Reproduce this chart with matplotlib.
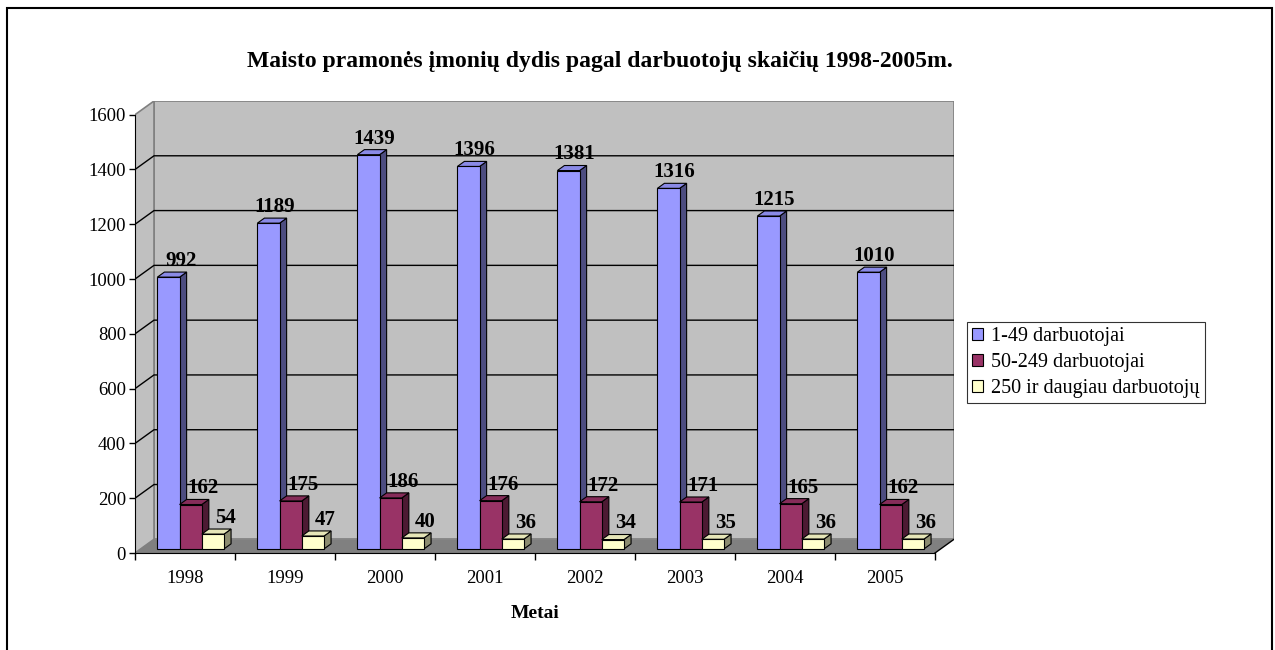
import numpy as np
import matplotlib.pyplot as plt
from matplotlib.patches import Polygon, Patch, Rectangle

plt.rcParams['font.family'] = ['Liberation Serif', 'DejaVu Serif']

years = ['1998', '1999', '2000', '2001', '2002', '2003', '2004', '2005']
small = [992, 1189, 1439, 1396, 1381, 1316, 1215, 1010]
medium = [162, 175, 186, 176, 172, 171, 165, 162]
large = [54, 47, 40, 36, 34, 35, 36, 36]
series_names = ['1-49 darbuotojai', '50-249 darbuotojai', '250 ir daugiau darbuotojų']
colors = ['#9999FF', '#993366', '#FFFFCC']
side_colors = ['#4D4D80', '#4D1A33', '#8C8C70']
top_colors = ['#8A8AE6', '#862C59', '#E6E6B8']

# fake 3d depth of the walls (x in category units, y in value units)
DX, DY = 0.19, 50
F0, F1 = 0.30, 0.67     # bars sit between these depth fractions
W = 1 / 4.5             # excel gap width 150%
YMAX = 1600

fig = plt.figure(figsize=(12.75, 6.5), dpi=100)
ax = fig.add_axes([135 / 1275, 97 / 650, 819 / 1275, 452 / 650])
ax.set_xlim(0, len(years) + DX)
ax.set_ylim(0, YMAX + DY)
ax.patch.set_visible(False)

n = len(years)
# walls and floor
ax.add_patch(Polygon([(DX, DY), (n + DX, DY), (n + DX, YMAX + DY), (DX, YMAX + DY)],
                     closed=True, fc='#C0C0C0', ec='#808080', lw=1.2, zorder=1))
ax.add_patch(Polygon([(0, 0), (DX, DY), (DX, YMAX + DY), (0, YMAX)],
                     closed=True, fc='#C0C0C0', ec='#808080', lw=1.2, zorder=1))
ax.add_patch(Polygon([(0, 0), (n, 0), (n + DX, DY), (DX, DY)],
                     closed=True, fc='#808080', ec='none', zorder=1.1))
ax.plot([n, n + DX], [0, DY], color='black', lw=1, zorder=1.2)
for v in range(200, YMAX, 200):
    ax.plot([0, DX, n + DX], [v, v + DY, v + DY], color='black', lw=1, zorder=1.3)

ddx, ddy = (F1 - F0) * DX, (F1 - F0) * DY
b = F0 * DY
for i in range(n):
    for k, vals in enumerate([small, medium, large]):
        v = vals[i]
        xl = i + 0.75 * W + k * W + F0 * DX
        z = 3 + i * 0.1 + k * 0.01
        ax.add_patch(Polygon([(xl + W, b), (xl + W + ddx, b + ddy),
                              (xl + W + ddx, b + v + ddy), (xl + W, b + v)],
                             closed=True, fc=side_colors[k], ec='black', lw=0.8, zorder=z))
        ax.add_patch(Polygon([(xl, b + v), (xl + W, b + v),
                              (xl + W + ddx, b + v + ddy), (xl + ddx, b + v + ddy)],
                             closed=True, fc=top_colors[k], ec='black', lw=0.8, zorder=z))
        ax.bar(xl, v, width=W, bottom=b, align='edge', color=colors[k],
               edgecolor='black', lw=0.8, zorder=z + 0.001)
        off = 0.06 if len(str(v)) == 4 else 0.125
        ax.text(xl + W / 2 + off, b + v + ddy + 22, str(v), ha='center', va='baseline',
                fontsize=15, fontweight='bold', zorder=10)

for s in ['top', 'right']:
    ax.spines[s].set_visible(False)
ax.spines['left'].set_bounds(0, YMAX)
ax.spines['bottom'].set_bounds(0, n)
ax.spines['left'].set_zorder(2)
ax.spines['bottom'].set_zorder(2)

ax.set_yticks(np.arange(0, YMAX + 1, 200))
ax.tick_params(axis='y', direction='out', length=4.5, width=1, labelsize=13.5, pad=2)
ax.set_xticks(np.arange(0, n + 1))
ax.set_xticklabels([])
ax.set_xticks(np.arange(n) + 0.5, minor=True)
ax.set_xticklabels(years, minor=True, fontsize=13.5)
ax.tick_params(axis='x', which='major', direction='out', length=5, width=1)
ax.tick_params(axis='x', which='minor', length=0, pad=12)

fig.text(600 / 1275, 1 - 67 / 650,
         'Maisto pramonės įmonių dydis pagal darbuotojų skaičių 1998-2005m.',
         ha='center', va='baseline', fontsize=17, fontweight='bold')
fig.text(535 / 1275, 1 - 618 / 650, 'Metai', ha='center', va='baseline',
         fontsize=14, fontweight='bold')

handles = [Patch(fc=c, ec='black', lw=0.8) for c in colors]
leg = fig.legend(handles, series_names, loc='upper left',
                 bbox_to_anchor=(967 / 1275, 1 - 322 / 650), fontsize=14.5,
                 frameon=True, fancybox=False, shadow=False, borderpad=0.25,
                 handlelength=0.55, handleheight=0.55, handletextpad=0.4,
                 labelspacing=0.35, borderaxespad=0)
leg.get_frame().set_edgecolor('black')
leg.get_frame().set_linewidth(0.8)

fig.add_artist(Rectangle((6.5 / 1275, -0.05), (1272 - 6.5) / 1275, 1.05 - 8.5 / 650,
                         transform=fig.transFigure, fill=False, ec='black', lw=1.5))

fig.savefig('out.png', dpi=100)
